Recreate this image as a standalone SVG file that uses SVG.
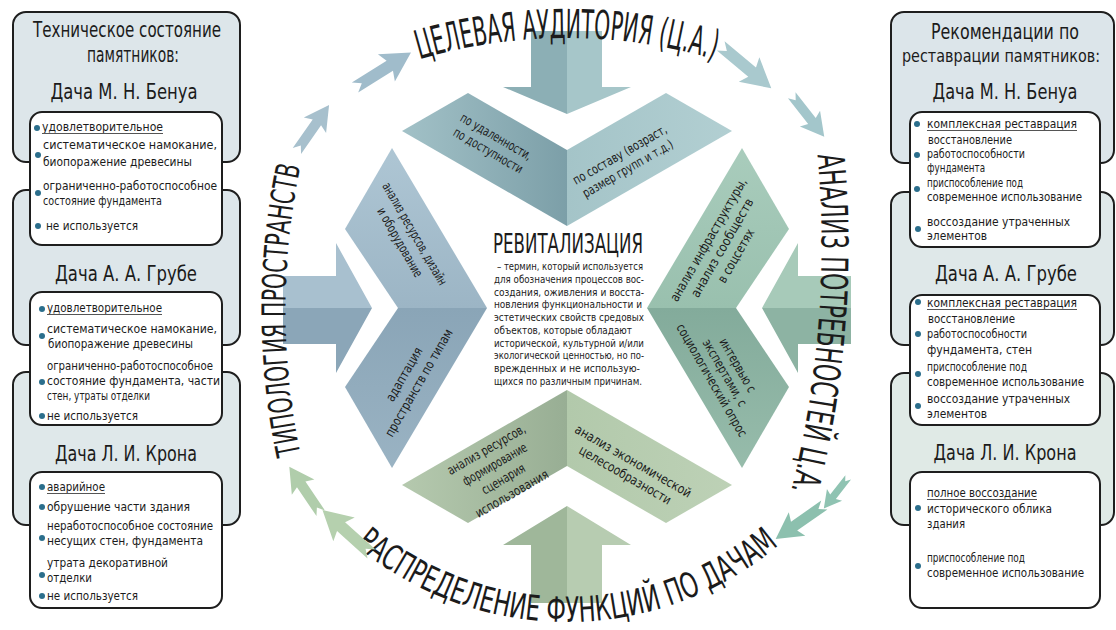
<svg xmlns="http://www.w3.org/2000/svg" width="1116" height="630" viewBox="0 0 1116 630">
<defs>
<style>
text{font-family:'Liberation Sans Narrow','DejaVu Sans Condensed','Liberation Sans',sans-serif;fill:#1b1b1b}
.ob{stroke:#1e1e1e;stroke-width:2}
.ib{fill:#fff;stroke:#1e1e1e;stroke-width:2}
.h{font-size:21px;text-anchor:middle}
.d{font-size:22px;text-anchor:middle}
.t{font-size:13px}
.u{stroke:#555;stroke-width:1}
.bl{fill:#2b6e8c}
.p{font-size:13px;text-anchor:middle}
.c{font-size:11px}
.rt{font-size:40px}
</style>
<path id="pTop" d="M47,558 A520,520 0 0 1 1087,558"/>
<path id="pRight" d="M817,150 A1000,1000 0 0 1 790,495"/>
<path id="pBot" d="M237,292 A330,330 0 0 0 897,292"/>
<path id="pLeft" d="M306,478 A700,700 0 0 1 306,142"/>
<path id="ra" d="M-33,-6 L8,-6 L4,-16 L33,0 L4,16 L8,6 L-33,6 L-25,0 Z"/>
<linearGradient id="gTL" gradientUnits="userSpaceOnUse" x1="402" y1="0" x2="567" y2="0"><stop offset="0" stop-color="#a2c1c7"/><stop offset="1" stop-color="#7c9fa8"/></linearGradient>
<linearGradient id="gTR" gradientUnits="userSpaceOnUse" x1="567" y1="0" x2="732" y2="0"><stop offset="0" stop-color="#a4c4c8"/><stop offset="1" stop-color="#b2cfd2"/></linearGradient>
<linearGradient id="gLU" gradientUnits="userSpaceOnUse" x1="0" y1="148" x2="0" y2="308"><stop offset="0" stop-color="#aec6d4"/><stop offset="1" stop-color="#9cb5c5"/></linearGradient>
<linearGradient id="gLD" gradientUnits="userSpaceOnUse" x1="0" y1="308" x2="0" y2="468"><stop offset="0" stop-color="#8aa5b7"/><stop offset="1" stop-color="#9ab3c3"/></linearGradient>
<linearGradient id="gRU" gradientUnits="userSpaceOnUse" x1="0" y1="148" x2="0" y2="308"><stop offset="0" stop-color="#a9ccbc"/><stop offset="1" stop-color="#99c0ae"/></linearGradient>
<linearGradient id="gRD" gradientUnits="userSpaceOnUse" x1="0" y1="308" x2="0" y2="468"><stop offset="0" stop-color="#83ab9b"/><stop offset="1" stop-color="#97bcab"/></linearGradient>
<linearGradient id="gBL" gradientUnits="userSpaceOnUse" x1="402" y1="0" x2="567" y2="0"><stop offset="0" stop-color="#b5c9ae"/><stop offset="1" stop-color="#98ae94"/></linearGradient>
<linearGradient id="gBR" gradientUnits="userSpaceOnUse" x1="567" y1="0" x2="732" y2="0"><stop offset="0" stop-color="#b2c9ab"/><stop offset="1" stop-color="#bdd1b6"/></linearGradient>
</defs>

<rect width="1116" height="630" fill="#fff"/>

<g id="tech-panel">
<rect class="ob" x="13" y="12" width="227" height="150" rx="13" fill="#dde6ea"/>
<rect class="ob" x="13" y="190" width="227" height="155" rx="13" fill="#dde6ea"/>
<rect class="ob" x="13" y="372" width="227" height="153" rx="13" fill="#dfe8ea"/>
<text class="h" x="127" y="37" textLength="188" lengthAdjust="spacingAndGlyphs">Техническое состояние</text>
<text class="h" x="133" y="62" textLength="92" lengthAdjust="spacingAndGlyphs">памятников:</text>
<text class="d" x="124" y="99" textLength="147" lengthAdjust="spacingAndGlyphs">Дача М. Н. Бенуа</text>
<text class="d" x="126" y="281" textLength="142" lengthAdjust="spacingAndGlyphs">Дача А. А. Грубе</text>
<text class="d" x="126" y="461" textLength="142" lengthAdjust="spacingAndGlyphs">Дача Л. И. Крона</text>
</g>

<g id="rec-panel">
<rect class="ob" x="891" y="12" width="223" height="151" rx="13" fill="#dce5ea"/>
<rect class="ob" x="891" y="192" width="223" height="153" rx="13" fill="#dfe8e9"/>
<rect class="ob" x="891" y="373" width="223" height="152" rx="13" fill="#e0eae6"/>
<text class="h" x="1005" y="39" textLength="148" lengthAdjust="spacingAndGlyphs">Рекомендации по</text>
<text class="h" x="1001" y="62" style="font-size:17px" textLength="198" lengthAdjust="spacingAndGlyphs">реставрации памятников:</text>
<text class="d" x="1005" y="99" textLength="145" lengthAdjust="spacingAndGlyphs">Дача М. Н. Бенуа</text>
<text class="d" x="1006" y="281" textLength="142" lengthAdjust="spacingAndGlyphs">Дача А. А. Грубе</text>
<text class="d" x="1005" y="460" textLength="143" lengthAdjust="spacingAndGlyphs">Дача Л. И. Крона</text>
</g>

<g id="tech-benua">
<rect class="ib" x="30" y="112" width="192" height="133" rx="12"/>
<circle class="bl" cx="37" cy="128" r="3"/>
<text class="t" x="42" y="131" textLength="121" lengthAdjust="spacingAndGlyphs">удовлетворительное</text>
<line class="u" x1="42" y1="133.5" x2="163" y2="133.5"/>
<circle class="bl" cx="38" cy="155" r="3"/>
<text class="t" x="43" y="149" textLength="174" lengthAdjust="spacingAndGlyphs">систематическое намокание,</text>
<text class="t" x="43" y="166" textLength="149" lengthAdjust="spacingAndGlyphs">биопоражение древесины</text>
<circle class="bl" cx="38" cy="193" r="3"/>
<text class="t" x="43" y="190" textLength="174" lengthAdjust="spacingAndGlyphs">ограниченно-работоспособное</text>
<text class="t" x="43" y="205" textLength="119" lengthAdjust="spacingAndGlyphs">состояние фундамента</text>
<circle class="bl" cx="38" cy="226" r="3"/>
<text class="t" x="46" y="230" textLength="92" lengthAdjust="spacingAndGlyphs">не используется</text>
</g>

<g id="tech-grube">
<rect class="ib" x="30" y="292" width="192" height="133" rx="12"/>
<circle class="bl" cx="42" cy="309" r="3"/>
<text class="t" x="47" y="312" textLength="115" lengthAdjust="spacingAndGlyphs">удовлетворительное</text>
<line class="u" x1="47" y1="314.5" x2="162" y2="314.5"/>
<circle class="bl" cx="42" cy="336" r="3"/>
<text class="t" x="47" y="333" textLength="170" lengthAdjust="spacingAndGlyphs">систематическое намокание,</text>
<text class="t" x="48" y="348" textLength="145" lengthAdjust="spacingAndGlyphs">биопоражение древесины</text>
<circle class="bl" cx="42" cy="382" r="3"/>
<text class="t" x="47" y="370" textLength="166" lengthAdjust="spacingAndGlyphs">ограниченно-работоспособное</text>
<text class="t" x="47" y="385" textLength="173" lengthAdjust="spacingAndGlyphs">состояние фундамента, части</text>
<text class="t" x="47" y="400" textLength="103" lengthAdjust="spacingAndGlyphs">стен, утраты отделки</text>
<circle class="bl" cx="42" cy="416" r="3"/>
<text class="t" x="47" y="420" textLength="91" lengthAdjust="spacingAndGlyphs">не используется</text>
</g>

<g id="tech-krona">
<rect class="ib" x="30" y="472" width="192" height="136" rx="12"/>
<circle class="bl" cx="42" cy="487" r="3"/>
<text class="t" x="47" y="491" textLength="58" lengthAdjust="spacingAndGlyphs">аварийное</text>
<line class="u" x1="47" y1="493.5" x2="105" y2="493.5"/>
<circle class="bl" cx="42" cy="507" r="3"/>
<text class="t" x="47" y="511" textLength="143" lengthAdjust="spacingAndGlyphs">обрушение части здания</text>
<circle class="bl" cx="42" cy="538" r="3"/>
<text class="t" x="47" y="530" textLength="166" lengthAdjust="spacingAndGlyphs">неработоспособное состояние</text>
<text class="t" x="47" y="545" textLength="156" lengthAdjust="spacingAndGlyphs">несущих стен, фундамента</text>
<circle class="bl" cx="42" cy="575" r="3"/>
<text class="t" x="47" y="567" textLength="121" lengthAdjust="spacingAndGlyphs">утрата декоративной</text>
<text class="t" x="47" y="582" textLength="45" lengthAdjust="spacingAndGlyphs">отделки</text>
<circle class="bl" cx="42" cy="596" r="3"/>
<text class="t" x="47" y="600" textLength="91" lengthAdjust="spacingAndGlyphs">не используется</text>
</g>

<g id="rec-benua">
<rect class="ib" x="910" y="112" width="190" height="135" rx="12"/>
<circle class="bl" cx="917" cy="124" r="3"/>
<text class="t" x="927" y="128" textLength="150" lengthAdjust="spacingAndGlyphs">комплексная реставрация</text>
<line class="u" x1="927" y1="130.5" x2="1077" y2="130.5"/>
<text class="t" x="928" y="144" textLength="84" lengthAdjust="spacingAndGlyphs">восстановление</text>
<circle class="bl" cx="917" cy="155" r="3"/>
<text class="t" x="927" y="158" textLength="98" lengthAdjust="spacingAndGlyphs">работоспособности</text>
<text class="t" x="927" y="172" textLength="58" lengthAdjust="spacingAndGlyphs">фундамента</text>
<circle class="bl" cx="917" cy="189" r="3"/>
<text class="t" x="927" y="187" textLength="96" lengthAdjust="spacingAndGlyphs">приспособление под</text>
<text class="t" x="927" y="201" textLength="155" lengthAdjust="spacingAndGlyphs">современное использование</text>
<circle class="bl" cx="918" cy="229" r="3"/>
<text class="t" x="927" y="226" textLength="143" lengthAdjust="spacingAndGlyphs">воссоздание утраченных</text>
<text class="t" x="927" y="240" textLength="60" lengthAdjust="spacingAndGlyphs">элементов</text>
</g>

<g id="rec-grube">
<rect class="ib" x="910" y="295" width="190" height="130" rx="12"/>
<circle class="bl" cx="918" cy="302" r="3"/>
<text class="t" x="927" y="307" textLength="150" lengthAdjust="spacingAndGlyphs">комплексная реставрация</text>
<line class="u" x1="927" y1="309.5" x2="1077" y2="309.5"/>
<text class="t" x="928" y="323" textLength="87" lengthAdjust="spacingAndGlyphs">восстановление</text>
<circle class="bl" cx="918" cy="334" r="3"/>
<text class="t" x="927" y="338" textLength="100" lengthAdjust="spacingAndGlyphs">работоспособности</text>
<text class="t" x="927" y="354" textLength="105" lengthAdjust="spacingAndGlyphs">фундамента, стен</text>
<circle class="bl" cx="918" cy="374" r="3"/>
<text class="t" x="927" y="371" textLength="100" lengthAdjust="spacingAndGlyphs">приспособление под</text>
<text class="t" x="927" y="386" textLength="157" lengthAdjust="spacingAndGlyphs">современное использование</text>
<circle class="bl" cx="918" cy="406" r="3"/>
<text class="t" x="927" y="403" textLength="143" lengthAdjust="spacingAndGlyphs">воссоздание утраченных</text>
<text class="t" x="927" y="418" textLength="60" lengthAdjust="spacingAndGlyphs">элементов</text>
</g>

<g id="rec-krona">
<rect class="ib" x="910" y="472" width="190" height="136" rx="12"/>
<text class="t" x="927" y="497" textLength="110" lengthAdjust="spacingAndGlyphs">полное воссоздание</text>
<line class="u" x1="927" y1="499.5" x2="1037" y2="499.5"/>
<circle class="bl" cx="918" cy="508" r="3"/>
<text class="t" x="927" y="513" textLength="125" lengthAdjust="spacingAndGlyphs">исторического облика</text>
<text class="t" x="927" y="528" textLength="38" lengthAdjust="spacingAndGlyphs">здания</text>
<circle class="bl" cx="918" cy="566" r="3"/>
<text class="t" x="927" y="562" textLength="98" lengthAdjust="spacingAndGlyphs">приспособление под</text>
<text class="t" x="927" y="577" textLength="157" lengthAdjust="spacingAndGlyphs">современное использование</text>
</g>

<g id="arrow-top">
<polygon points="531,31 567,31 567,114 503,87 531,87" fill="#8cafb5"/>
<polygon points="567,31 602,31 602,87 631,87 567,114" fill="#a6c6c9"/>
</g>
<g id="arrow-bottom">
<polygon points="531,603 567,603 567,506 503,545 531,545" fill="#9fb79a"/>
<polygon points="567,603 602,603 602,545 631,545 567,506" fill="#b7ccb1"/>
</g>
<g id="arrow-left">
<polygon points="283,276 336,276 336,243 372,308 283,308" fill="#a8c0cf"/>
<polygon points="283,308 372,308 336,373 336,344 283,344" fill="#8ba6b8"/>
</g>
<g id="arrow-right">
<polygon points="851,276 798,276 798,243 762,308 851,308" fill="#a7cab9"/>
<polygon points="851,308 762,308 798,373 798,344 851,344" fill="#8db3a3"/>
</g>

<g id="node-top-left">
<polygon points="402,131 468,93 567,150 567,226" fill="url(#gTL)"/>
<g transform="translate(492,144) rotate(30)"><text class="p" y="-4" textLength="80" lengthAdjust="spacingAndGlyphs">по удаленности,</text><text class="p" y="12" textLength="78" lengthAdjust="spacingAndGlyphs">по доступности</text></g>
</g>
<g id="node-top-right">
<polygon points="567,150 666,93 732,131 567,226" fill="url(#gTR)"/>
<g transform="translate(624,162) rotate(-30)"><text class="p" y="-4" textLength="106" lengthAdjust="spacingAndGlyphs">по составу (возраст,</text><text class="p" y="12" textLength="102" lengthAdjust="spacingAndGlyphs">размер групп и т.д.)</text></g>
</g>
<g id="node-left-up">
<polygon points="392,148 487,308 398,308 345,229" fill="url(#gLU)"/>
<g transform="translate(404,240) rotate(60)"><text class="p" y="-8" textLength="116" lengthAdjust="spacingAndGlyphs">анализ ресурсов, дизайн</text><text class="p" y="9" textLength="78" lengthAdjust="spacingAndGlyphs">и оборудование</text></g>
</g>
<g id="node-left-down">
<polygon points="398,308 487,308 392,468 345,387" fill="url(#gLD)"/>
<g transform="translate(414,380) rotate(-60)"><text class="p" y="-7" textLength="60" lengthAdjust="spacingAndGlyphs">адаптация</text><text class="p" y="10" textLength="122" lengthAdjust="spacingAndGlyphs">пространств по типам</text></g>
</g>
<g id="node-right-up">
<polygon points="742,148 789,229 736,308 647,308" fill="url(#gRU)"/>
<g transform="translate(726,250) rotate(-60)"><text class="p" y="-16" textLength="140" lengthAdjust="spacingAndGlyphs">анализ инфраструктуры,</text><text class="p" y="0" textLength="112" lengthAdjust="spacingAndGlyphs">анализ сообществ</text><text class="p" y="16" textLength="60" lengthAdjust="spacingAndGlyphs">в соцсетях</text></g>
</g>
<g id="node-right-down">
<polygon points="647,308 736,308 789,387 742,468" fill="url(#gRD)"/>
<g transform="translate(721,375) rotate(60)"><text class="p" y="-15" textLength="60" lengthAdjust="spacingAndGlyphs">интервью с</text><text class="p" y="0" textLength="75" lengthAdjust="spacingAndGlyphs">экспертами, с</text><text class="p" y="15" textLength="128" lengthAdjust="spacingAndGlyphs">социологический опрос</text></g>
</g>
<g id="node-bottom-left">
<polygon points="567,390 567,466 468,523 402,485" fill="url(#gBL)"/>
<g transform="translate(501,475) rotate(-30)"><text class="p" y="-25" textLength="88" lengthAdjust="spacingAndGlyphs">анализ ресурсов,</text><text class="p" y="-8" textLength="72" lengthAdjust="spacingAndGlyphs">формирование</text><text class="p" y="9" textLength="48" lengthAdjust="spacingAndGlyphs">сценария</text><text class="p" y="26" textLength="82" lengthAdjust="spacingAndGlyphs">использования</text></g>
</g>
<g id="node-bottom-right">
<polygon points="567,390 732,485 666,523 567,466" fill="url(#gBR)"/>
<g transform="translate(631,465) rotate(30)"><text class="p" y="0" textLength="132" lengthAdjust="spacingAndGlyphs">анализ экономической</text><text class="p" y="16" textLength="104" lengthAdjust="spacingAndGlyphs">целесообразности</text></g>
</g>

<g id="node-center">
<text x="568" y="253" font-size="26" text-anchor="middle" textLength="150" lengthAdjust="spacingAndGlyphs">РЕВИТАЛИЗАЦИЯ</text>
<text class="c" x="497" y="270" textLength="146" lengthAdjust="spacingAndGlyphs">– термин, который используется</text>
<text class="c" x="494" y="283" textLength="150" lengthAdjust="spacingAndGlyphs">для обозначения процессов вос-</text>
<text class="c" x="494" y="296" textLength="150" lengthAdjust="spacingAndGlyphs">создания, оживления и восста-</text>
<text class="c" x="494" y="308" textLength="148" lengthAdjust="spacingAndGlyphs">новления функциональности и</text>
<text class="c" x="494" y="321" textLength="150" lengthAdjust="spacingAndGlyphs">эстетических свойств средовых</text>
<text class="c" x="494" y="334" textLength="138" lengthAdjust="spacingAndGlyphs">объектов, которые обладают</text>
<text class="c" x="494" y="347" textLength="150" lengthAdjust="spacingAndGlyphs">исторической, культурной и/или</text>
<text class="c" x="494" y="359" textLength="150" lengthAdjust="spacingAndGlyphs">экологической ценностью, но по-</text>
<text class="c" x="494" y="372" textLength="146" lengthAdjust="spacingAndGlyphs">врежденных и не использую-</text>
<text class="c" x="494" y="385" textLength="148" lengthAdjust="spacingAndGlyphs">щихся по различным причинам.</text>
</g>

<g id="label-top"><text class="rt"><textPath href="#pTop" startOffset="50%" text-anchor="middle" textLength="299" lengthAdjust="spacingAndGlyphs">ЦЕЛЕВАЯ АУДИТОРИЯ (Ц.А.)</textPath></text></g>
<g id="label-right"><text style="font-size:37px"><textPath href="#pRight" startOffset="50%" text-anchor="middle" textLength="338" lengthAdjust="spacingAndGlyphs">АНАЛИЗ ПОТРЕБНОСТЕЙ Ц.А.</textPath></text></g>
<g id="label-bottom"><text style="font-size:35px"><textPath href="#pBot" startOffset="50%" text-anchor="middle" textLength="460" lengthAdjust="spacingAndGlyphs">РАСПРЕДЕЛЕНИЕ ФУНКЦИЙ ПО ДАЧАМ</textPath></text></g>
<g id="label-left"><text style="font-size:33px"><textPath href="#pLeft" startOffset="50%" text-anchor="middle" textLength="290" lengthAdjust="spacingAndGlyphs">ТИПОЛОГИЯ ПРОСТРАНСТВ</textPath></text></g>

<g id="connectors">
<use href="#ra" transform="translate(313,128) rotate(-55) scale(0.85)" fill="#a7c0cd"/>
<use href="#ra" transform="translate(383,70) rotate(-32)" fill="#a0bccb"/>
<use href="#ra" transform="translate(746,67) rotate(40)" fill="#a9c9ce"/>
<use href="#ra" transform="translate(808,116) rotate(52) scale(0.8)" fill="#a3c6cb"/>
<use href="#ra" transform="translate(836,493) rotate(128) scale(0.6)" fill="#8fc3b2"/>
<use href="#ra" transform="translate(800,522) rotate(145) scale(0.9)" fill="#8cc0ae"/>
<use href="#ra" transform="translate(347,532) rotate(222)" fill="#b5d0ae"/>
<use href="#ra" transform="translate(305,490) rotate(236) scale(0.85)" fill="#b0cdab"/>
</g>
</svg>
